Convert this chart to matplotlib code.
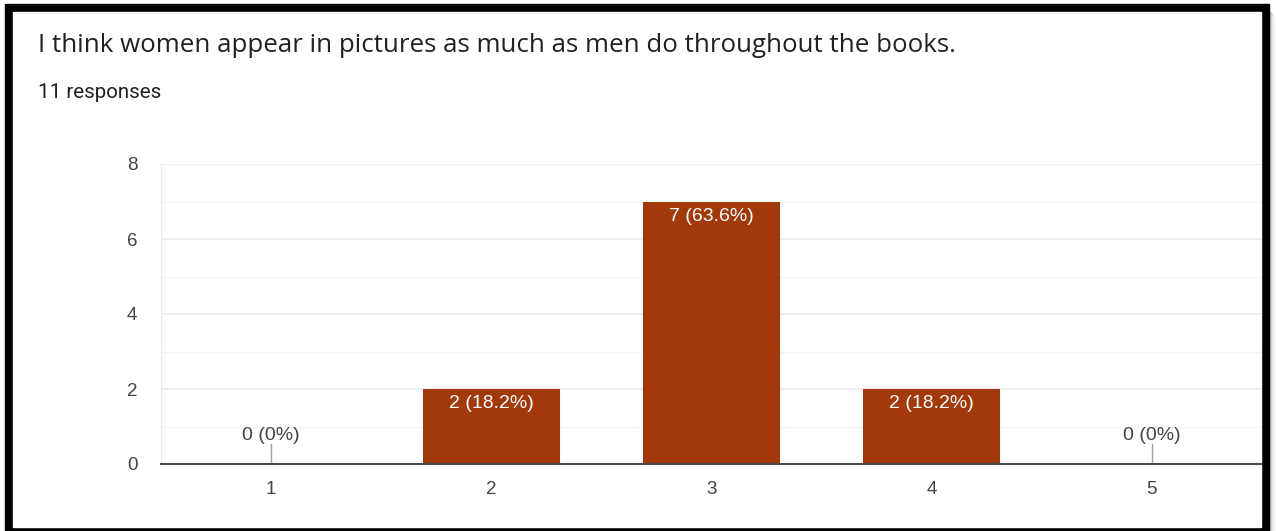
import numpy as np
import matplotlib
matplotlib.use("Agg")
import matplotlib.pyplot as plt
from matplotlib.patches import Rectangle

# survey answers on a 1-5 scale
title = "I think women appear in pictures as much as men do throughout the books."
n_responses = 11
categories = [1, 2, 3, 4, 5]
counts = [0, 2, 7, 2, 0]
yticks = [0, 2, 4, 6, 8]

bar_color = "#a3390a"
text_color = "#444444"

W, H = 1276, 531
fig = plt.figure(figsize=(W / 100, H / 100), dpi=100)
fig.patch.set_facecolor("white")

# black frame with a soft shadow on the right
def px_rect(x0, y0, x1, y1, **kw):
    fig.patches.append(Rectangle((x0 / W, 1 - y1 / H), (x1 - x0) / W, (y1 - y0) / H,
                                 transform=fig.transFigure, figure=fig, **kw))

for i, c in enumerate(["#9a9a9a", "#b8b8b8", "#d0d0d0", "#e2e2e2", "#efefef", "#f7f7f7"]):
    px_rect(1269 + i, 12 + i, 1270 + i, 531, color=c, zorder=0)
px_rect(5, 4, 1269, 531, color="black", zorder=0)
px_rect(13, 12, 1261, 527, color="white", zorder=0.5)

fig.text(38 / W, 1 - 46 / H, title, fontsize=18.6, family="Open Sans",
         color="#202124", va="center", ha="left")
fig.text(38 / W, 1 - 92 / H, f"{n_responses} responses", fontsize=14.8, family="Roboto",
         color="#202124", va="center", ha="left")

ax = fig.add_axes([161 / W, 1 - 464 / H, (1262 - 161) / W, 300 / H])
ax.set_zorder(2)
ax.set_facecolor("none")
ax.set_xlim(0.5, 5.5)
ax.set_ylim(0, 8)

ax.bar(categories, counts, width=0.62, color=bar_color, zorder=2)

lbl_size = 14
total = sum(counts)
for x, v in zip(categories, counts):
    pct = 100 * v / total
    label = f"{v} ({pct:.1f}%)" if v else f"{v} (0%)"
    if v > 0:
        ax.text(x, v - 0.17, label, ha="center", va="top", color="white",
                fontsize=lbl_size, family="Liberation Sans", zorder=3)
    else:
        ax.plot([x, x], [0, 0.53], color="#9e9e9e", lw=1, zorder=2)
        ax.text(x, 0.76, label, ha="center", va="center", color=text_color,
                fontsize=lbl_size, family="Liberation Sans", zorder=3)

ax.set_yticks(yticks)
ax.set_yticks(np.arange(1, 8, 2), minor=True)
ax.set_xticks(categories)
ax.grid(axis="y", which="major", color="#ebebeb", lw=1.2, zorder=0)
ax.grid(axis="y", which="minor", color="#f4f4f4", lw=1.0, zorder=0)
ax.tick_params(axis="both", which="both", length=0, labelsize=13.5, labelcolor=text_color)
ax.tick_params(axis="y", pad=17)
ax.tick_params(axis="x", pad=12)
for lab in ax.get_xticklabels() + ax.get_yticklabels():
    lab.set_family("Liberation Sans")

for s in ["top", "right"]:
    ax.spines[s].set_visible(False)
ax.spines["left"].set_color("#ebebeb")
ax.spines["bottom"].set_color("#4a4a4a")
ax.spines["bottom"].set_linewidth(1.5)
ax.spines["bottom"].set_zorder(4)

fig.savefig("out.png", dpi=100)
